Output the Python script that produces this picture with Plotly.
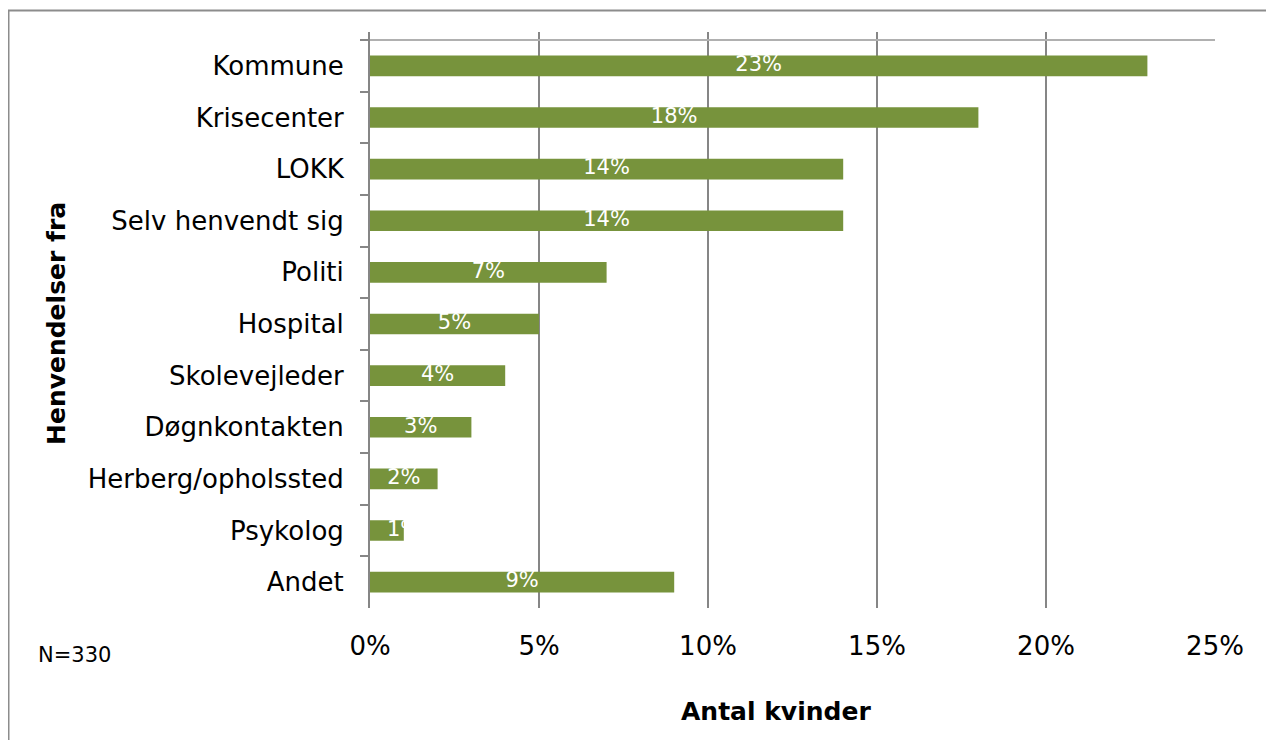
import plotly.graph_objects as go

categories = ["Kommune", "Krisecenter", "LOKK", "Selv henvendt sig", "Politi", "Hospital",
              "Skolevejleder", "Døgnkontakten", "Herberg/opholssted", "Psykolog", "Andet"]
values = [23, 18, 14, 14, 7, 5, 4, 3, 2, 1, 9]
labels = [f"{v}%" for v in values]
x_ticks = [0, 5, 10, 15, 20, 25]
x_tick_labels = [f"{t}%" for t in x_ticks]

FONT = "DejaVu Sans"
GREEN = "#77933C"
GRID = "#868686"

# page body has an 8px margin: figure occupies window pixels 8..1274 / 8..740
OFF = 8
W, H = 1274 - OFF, 740 - OFF
L, R, T, B = 370 - OFF, 59, 32 - OFF, 132
pw = W - L - R
ph = H - T - B


def px_x(p):
    return (p - OFF - L) / pw


def px_y(p):
    return (H - B - (p - OFF)) / ph


fig = go.Figure()
fig.add_trace(go.Bar(
    y=categories, x=values, orientation="h",
    marker=dict(color=GREEN, line=dict(width=0)),
    width=0.40, textposition="none", hoverinfo="skip",
))
fig.add_trace(go.Scatter(
    y=categories, x=[v / 2 for v in values], mode="text", text=labels,
    textfont=dict(family=FONT, size=21, color="white"),
    textposition=["middle center" if v >= 2 else "middle right" for v in values],
    hoverinfo="skip", showlegend=False,
))

fig.update_layout(
    width=W, height=H,
    margin=dict(l=L, r=R, t=T, b=B),
    paper_bgcolor="white", plot_bgcolor="white",
    showlegend=False,
    font=dict(family=FONT, color="black"),
    xaxis=dict(
        range=[0, 25], tickvals=x_ticks, ticktext=x_tick_labels,
        showgrid=True, gridcolor=GRID, gridwidth=2, zeroline=False,
        showline=False, ticks="", tickfont=dict(size=26, family=FONT),
        ticklabelstandoff=20, fixedrange=True,
    ),
    yaxis=dict(
        type="category", categoryorder="array", categoryarray=categories,
        range=[10.5, -0.655], showgrid=False, zeroline=False,
        showline=True, linecolor=GRID, linewidth=2,
        ticks="outside", tickson="boundaries", ticklen=8, tickcolor=GRID, tickwidth=2,
        tickfont=dict(size=26, family=FONT), ticklabelstandoff=19,
    ),
    shapes=[
        dict(type="line", xref="x", yref="y", x0=0, x1=25, y0=-0.5, y1=-0.5,
             line=dict(color="#b0b0b0", width=2)),
        dict(type="rect", xref="paper", yref="paper",
             x0=px_x(8.5), x1=px_x(1273), y0=px_y(10.5), y1=px_y(760),
             line=dict(color="#8c8c8c", width=2), fillcolor="rgba(0,0,0,0)"),
    ],
    annotations=[
        dict(text="<b>Antal kvinder</b>", xref="paper", yref="paper",
             x=px_x(776), y=px_y(711), showarrow=False,
             font=dict(size=25, family=FONT), xanchor="center", yanchor="middle"),
        dict(text="<b>Henvendelser fra</b>", xref="paper", yref="paper",
             x=px_x(56), y=px_y(324), showarrow=False, textangle=-90,
             font=dict(size=25, family=FONT), xanchor="center", yanchor="middle"),
        dict(text="N=330", xref="paper", yref="paper",
             x=px_x(36), y=px_y(655), showarrow=False,
             font=dict(size=21, family=FONT), xanchor="left", yanchor="middle"),
    ],
)

fig.write_html("out.html")
